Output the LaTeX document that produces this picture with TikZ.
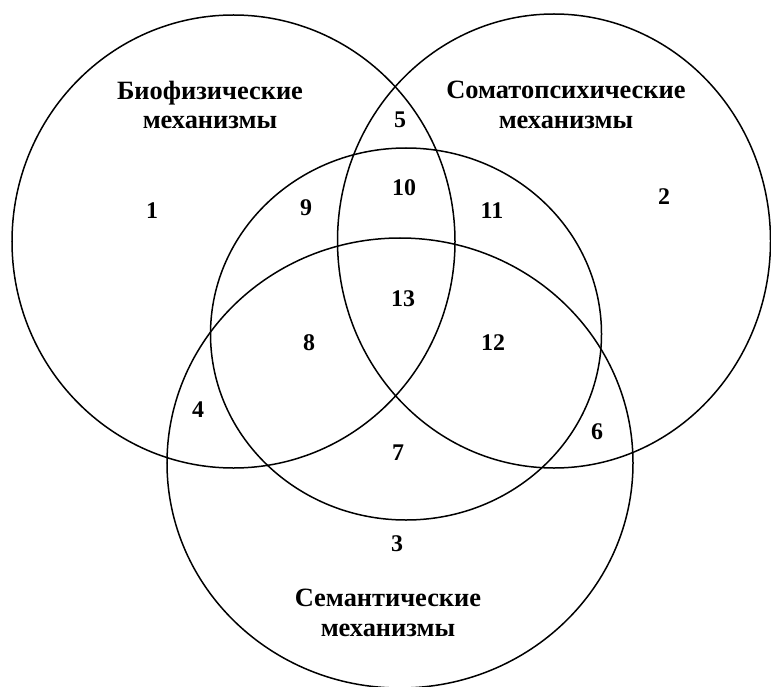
\documentclass[tikz,border=0pt]{standalone}
\usepackage{fontspec}
\setmainfont{Liberation Serif}
\usetikzlibrary{shapes.geometric}
\tikzset{
  area/.style={
    draw,
    ellipse,
    line width=1.5bp,
    inner sep=0pt
  },
  title/.style={
    align=center,
    font=\bfseries\fontsize{26.5}{30}\selectfont
  },
  num/.style={
    font=\bfseries\fontsize{24}{28}\selectfont
  }
}

\begin{document}
\begin{tikzpicture}[x=1bp, y=-1bp]
        \useasboundingbox (0,0) rectangle (771,687);
        % the four sets
        \node[area, minimum width=443bp, minimum height=453bp] (bio) at (233.5,241.5) {};
        \node[area, minimum width=433bp, minimum height=454bp] (soma) at (554,241) {};
        \node[area, minimum width=391bp, minimum height=372bp] (mid) at (406,334) {};
        \node[area, minimum width=466bp, minimum height=450bp] (sem) at (400,463) {};

        \node[title] (biotitle) at (210,105) {Биофизические\\механизмы};
        \node[title] (somatitle) at (566,105) {Соматопсихические\\механизмы};
        \node[title] (semtitle) at (388,613) {Семантические\\механизмы};

        % region numbers
        \node[num] (n1) at (152,211) {1};
        \node[num] (n2) at (664,197) {2};
        \node[num] (n3) at (397,544) {3};
        \node[num] (n4) at (198,410) {4};
        \node[num] (n5) at (400,120) {5};
        \node[num] (n6) at (597,432) {6};
        \node[num] (n7) at (398,453) {7};
        \node[num] (n8) at (309,343) {8};
        \node[num] (n9) at (306,208) {9};
        \node[num] (n10) at (404,188) {10};
        \node[num] (n11) at (492,211) {11};
        \node[num] (n12) at (493,343) {12};
        \node[num] (n13) at (403,299) {13};
      \end{tikzpicture}
\end{document}
